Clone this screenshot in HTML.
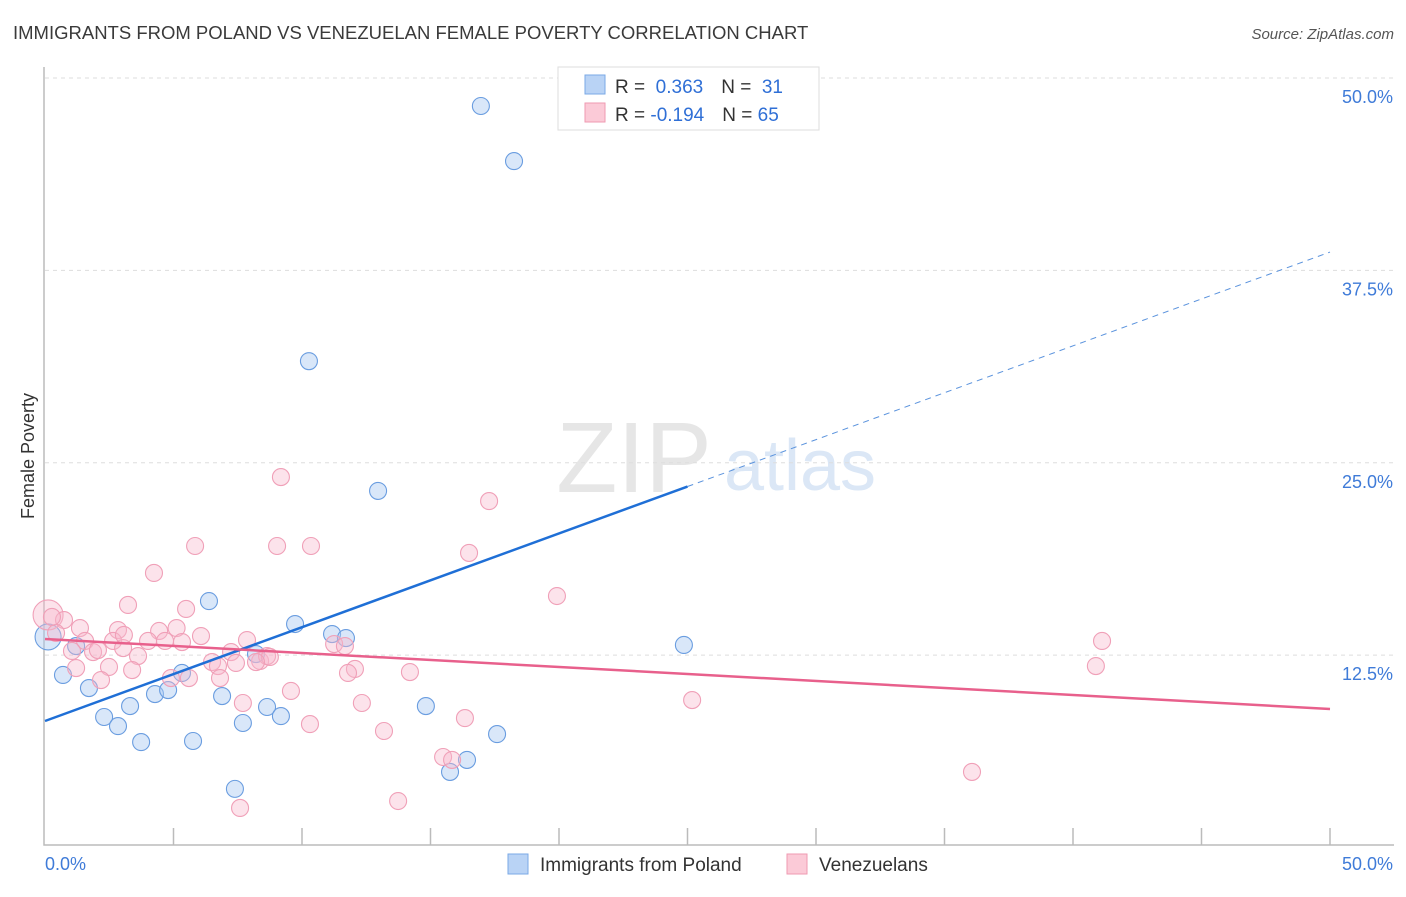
<!DOCTYPE html>
<html><head><meta charset="utf-8"><style>
body{margin:0;background:#fff;font-family:"Liberation Sans",sans-serif}
svg text{font-family:"Liberation Sans",sans-serif}
</style></head><body>
<svg id="chart" width="1406" height="892" xmlns="http://www.w3.org/2000/svg">
<text x="13" y="39" font-size="18.5" fill="#3a3a3a">IMMIGRANTS FROM POLAND VS VENEZUELAN FEMALE POVERTY CORRELATION CHART</text>
<text x="1394" y="39" font-size="15" fill="#555" text-anchor="end" font-style="italic">Source: ZipAtlas.com</text>
<g>
<text x="634" y="492" font-size="100" fill="#e6e6e6" text-anchor="middle" font-family="Liberation Serif">ZIP</text>
<text x="800" y="490" font-size="72" fill="#dbe7f6" text-anchor="middle">atlas</text>
</g>
<g id="grid"></g>
<g id="axes"></g>
<g id="marks"></g>
<text transform="translate(34,456) rotate(-90)" font-size="18" fill="#333" text-anchor="middle">Female Poverty</text>
<g>
<rect x="558" y="67" width="261" height="63" fill="#fff" stroke="#ddd"/>
<rect x="585" y="75" width="20" height="19" fill="#b9d3f5" stroke="#7aa8e6"/>
<rect x="585" y="103" width="20" height="19" fill="#fbcad7" stroke="#ef9ab2"/>
<text x="615" y="93" font-size="19" fill="#333">R = <tspan fill="#2f6fd6">&#160;0.363</tspan><tspan dx="18">N = </tspan><tspan fill="#2f6fd6">&#160;31</tspan></text>
<text x="615" y="121" font-size="19" fill="#333">R = <tspan fill="#2f6fd6">-0.194</tspan><tspan dx="18">N = </tspan><tspan fill="#2f6fd6">65</tspan></text>
</g>
<g>
<rect x="508" y="854" width="20" height="20" fill="#b9d3f5" stroke="#7aa8e6"/>
<text x="540" y="871" font-size="19" fill="#333">Immigrants from Poland</text>
<rect x="787" y="854" width="20" height="20" fill="#fbcad7" stroke="#ef9ab2"/>
<text x="819" y="871" font-size="19" fill="#333">Venezuelans</text>
</g>
</svg>
<script>
const yTicks=[12.5,25,37.5,50];
const yTickLabels=["12.5%","25.0%","37.5%","50.0%"];
const xTickLabels=["0.0%","50.0%"];
const polandX=[16.96,18.25,10.27,12.96,6.38,9.73,24.86,11.17,11.71,0.70,1.71,1.21,0.12,5.33,4.28,4.79,6.89,3.31,2.30,2.84,3.74,5.76,7.70,8.64,9.18,8.21,14.82,17.59,16.42,15.76,7.39];
const polandY=[48.18,44.6,31.6,23.17,16.01,14.52,13.16,13.87,13.61,11.21,10.36,13.09,13.68,11.34,9.97,10.23,9.84,9.19,8.48,7.89,6.85,6.92,8.09,9.13,8.54,12.57,9.19,7.37,5.69,4.91,3.81];
const venX=[9.18,17.28,5.84,9.03,10.35,16.50,4.24,19.92,3.23,5.49,41.13,40.89,0.12,0.74,1.36,2.84,4.44,5.12,6.07,7.86,0.43,1.56,2.65,4.01,4.67,5.33,11.25,11.67,1.05,1.87,3.04,3.62,2.49,3.39,1.21,2.18,4.90,5.60,6.50,6.73,6.81,7.24,8.37,8.64,8.75,12.06,11.79,14.20,9.57,12.33,25.18,16.34,10.31,7.70,13.19,15.49,15.84,36.07,13.74,7.59,8.21,0.27,3.07,2.06,7.43];
const venY=[24.07,22.51,19.59,19.59,19.59,19.14,17.84,16.34,15.76,15.50,13.42,11.79,15.11,14.78,14.26,14.13,14.07,14.26,13.74,13.48,13.94,13.42,13.42,13.42,13.42,13.35,13.22,13.09,12.77,12.70,12.96,12.44,11.73,11.53,11.66,10.88,11.01,11.01,12.05,11.79,11.01,12.70,12.12,12.44,12.38,11.60,11.34,11.40,10.17,9.39,9.58,8.41,8.02,9.39,7.57,5.88,5.69,4.91,3.02,2.57,12.05,14.98,13.81,12.83,11.99];
const polandTrend=[8.22,38.69];
const venTrend=[13.55,9.0];
const NS="http://www.w3.org/2000/svg";
const X0=45,X1=1330,Y0=847.5,YPER=15.39;
const sx=v=>X0+(X1-X0)*v/50;
const sy=v=>Y0-v*YPER;
function mk(tag,attrs,parent){const e=document.createElementNS(NS,tag);for(const k in attrs)e.setAttribute(k,attrs[k]);parent.appendChild(e);return e;}
const grid=document.getElementById('grid'),axes=document.getElementById('axes'),marks=document.getElementById('marks');
yTicks.forEach((t,i)=>{
 const l=mk('line',{x1:45,x2:1394,y1:sy(t),y2:sy(t),stroke:'#ddd','stroke-dasharray':'4,4'},grid);
 
 
 const tx=mk('text',{x:1393,y:sy(t)+25,'font-size':18,fill:'#3f7bd8','text-anchor':'end'},axes);
 tx.textContent=yTickLabels[i];
 
 
});
const ax=mk('path',{d:`M44,67 V845 H1394`,stroke:'#bbb',fill:'none','stroke-width':1.5},axes);


for(let i=1;i<=10;i++){const t=mk('line',{x1:sx(i*5),x2:sx(i*5),y1:828,y2:845,stroke:'#bbb','stroke-width':1.5},axes);
 
 }
[[0,45,'start'],[50,1393,'end']].forEach((d,i)=>{const t=mk('text',{x:d[1],y:870,'font-size':18,fill:'#3f7bd8','text-anchor':d[2]},axes);t.textContent=xTickLabels[i];
 
 });
polandX.forEach((x,i)=>{const c=mk('circle',{cx:sx(x),cy:sy(polandY[i]),r:i==12?13:8.5,fill:'rgba(170,202,242,0.45)',stroke:'#6a9de0','stroke-width':1.1},marks);
 
 });
venX.forEach((x,i)=>{const c=mk('circle',{cx:sx(x),cy:sy(venY[i]),r:i==12?15:8.5,fill:'rgba(248,186,204,0.4)',stroke:'#f0a0b8','stroke-width':1.1},marks);
 
 });
const py=x=>polandTrend[0]+(polandTrend[1]-polandTrend[0])*x/50;
const l1=mk('line',{x1:sx(0),y1:sy(py(0)),x2:sx(25),y2:sy(py(25)),stroke:'#1f6fd6','stroke-width':2.5},marks);


const l2=mk('line',{x1:sx(25),y1:sy(py(25)),x2:sx(50),y2:sy(py(50)),stroke:'#5b93dd','stroke-width':1,'stroke-dasharray':'6,5'},marks);


const l3=mk('line',{x1:sx(0),y1:sy(venTrend[0]),x2:sx(50),y2:sy(venTrend[1]),stroke:'#e8608c','stroke-width':2.5},marks);


</script>
</body></html>
